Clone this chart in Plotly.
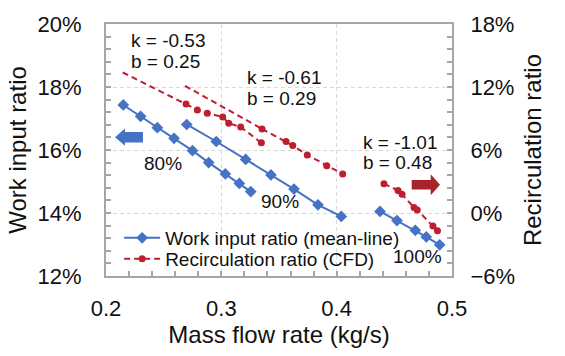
import plotly.graph_objects as go

# ---------------- data ----------------
# Work input ratio (mean-line), left axis
mass_80 = [0.215, 0.230, 0.2445, 0.259, 0.275, 0.289, 0.3035, 0.3156, 0.3255]
work_80 = [0.1743, 0.1707, 0.1671, 0.1637, 0.1598, 0.1560, 0.1524, 0.1494, 0.1468]
mass_90 = [0.270, 0.2956, 0.3211, 0.343, 0.363, 0.3838, 0.404]
work_90 = [0.1681, 0.1627, 0.1570, 0.1521, 0.1476, 0.1426, 0.1389]
mass_100 = [0.4376, 0.4523, 0.4682, 0.4777, 0.4893]
work_100 = [0.1405, 0.1376, 0.1345, 0.1324, 0.1299]

# Recirculation ratio (CFD), right axis
cfd_mass_80 = [0.2694, 0.2792, 0.2878, 0.3012, 0.3064, 0.3168, 0.3347]
cfd_recirc_80 = [0.1037, 0.0982, 0.0951, 0.0915, 0.0855, 0.0819, 0.0668]
cfd_mass_90 = [0.3353, 0.3561, 0.3619, 0.3745, 0.3914, 0.4052]
cfd_recirc_90 = [0.0801, 0.0680, 0.0643, 0.0553, 0.0451, 0.0372]
cfd_mass_100 = [0.4410, 0.4532, 0.4567, 0.4671, 0.4699, 0.4835, 0.4874]
cfd_recirc_100 = [0.0279, 0.0215, 0.0179, 0.0052, 0.0029, -0.0124, -0.0170]

# Dashed fit extensions (start point, ending at the first CFD point)
fit_mass_80 = [0.2145, 0.2694]
fit_recirc_80 = [0.1338, 0.1037]
fit_mass_90 = [0.2685, 0.3353]
fit_recirc_90 = [0.1211, 0.0801]

fit_labels = [("k = -0.53", "b = 0.25"), ("k = -0.61", "b = 0.29"), ("k = -1.01", "b = 0.48")]
speed_labels = ["80%", "90%", "100%"]

x_ticks = [0.2, 0.3, 0.4, 0.5]
y_ticks = [0.12, 0.14, 0.16, 0.18, 0.20]
y2_ticks = [-0.06, 0.0, 0.06, 0.12, 0.18]

# ---------------- styles ----------------
BLUE = "#4472C4"
RED = "#BE1E2D"
RED_ARROW = "#A8232B"
FRAME = "#A6A6A6"
GRID = "#D9D9D9"
FONT = "Liberation Sans, Arial, sans-serif"
TXT = "#111111"

fig = go.Figure()

work_sets = [(mass_80, work_80), (mass_90, work_90), (mass_100, work_100)]
for i, (mx, wy) in enumerate(work_sets):
    fig.add_trace(go.Scatter(
        x=mx, y=wy, mode="lines+markers", yaxis="y",
        line=dict(color=BLUE, width=2),
        marker=dict(symbol="diamond", size=9, color=BLUE),
        name="Work input ratio (mean-line)", legend="legend",
        showlegend=(i == 0)))

fit_sets = [(fit_mass_80, fit_recirc_80), (fit_mass_90, fit_recirc_90)]
for mx, ry in fit_sets:
    fig.add_trace(go.Scatter(
        x=mx, y=ry, mode="lines", yaxis="y2",
        line=dict(color=RED, width=2, dash="6px,4px"),
        showlegend=False, hoverinfo="skip"))

cfd_sets = [(cfd_mass_80, cfd_recirc_80), (cfd_mass_90, cfd_recirc_90), (cfd_mass_100, cfd_recirc_100)]
for i, (mx, ry) in enumerate(cfd_sets):
    fig.add_trace(go.Scatter(
        x=mx, y=ry, mode="lines+markers", yaxis="y2",
        line=dict(color=RED, width=2, dash="6px,4px"),
        marker=dict(symbol="circle", size=7, color=RED),
        name="Recirculation ratio (CFD)", legend="legend2",
        showlegend=(i == 0)))

# ---------------- annotations ----------------
ann = []
fit_pos = [(0.0665, 0.935, 0.852), (0.4017, 0.786, 0.703), (0.736, 0.531, 0.452)]
for (k_txt, b_txt), (xp, yk, yb) in zip(fit_labels, fit_pos):
    for txt, yp in ((k_txt, yk), (b_txt, yb)):
        ann.append(dict(text=txt, x=xp, y=yp, xref="paper", yref="paper",
                        xanchor="left", yanchor="middle", showarrow=False,
                        font=dict(size=19, family=FONT, color=TXT)))
speed_pos = [(0.166, 0.447), (0.504, 0.294), (0.9017, 0.0774)]
for txt, (xp, yp) in zip(speed_labels, speed_pos):
    ann.append(dict(text=txt, x=xp, y=yp, xref="paper", yref="paper",
                    xanchor="center", yanchor="middle", showarrow=False,
                    font=dict(size=19, family=FONT, color=TXT)))

# block arrows
shapes = [
    dict(type="path", xref="paper", yref="paper",
         path="M 0.026 0.5510 L 0.0549 0.5849 L 0.0549 0.5717 L 0.1069 0.5717 "
              "L 0.1069 0.5302 L 0.0549 0.5302 L 0.0549 0.5170 Z",
         fillcolor=BLUE, line=dict(width=0)),
    dict(type="path", xref="paper", yref="paper",
         path="M 0.9653 0.3623 L 0.9384 0.4038 L 0.9384 0.3811 L 0.8835 0.3811 "
              "L 0.8835 0.3434 L 0.9384 0.3434 L 0.9384 0.3208 Z",
         fillcolor=RED_ARROW, line=dict(width=0)),
]

axis_common = dict(
    showline=True, linecolor=FRAME, linewidth=2,
    ticks="inside", ticklen=5, tickcolor=FRAME, tickwidth=1.5,
    zeroline=False, tickfont=dict(size=22, family=FONT, color=TXT),
)

legend_common = dict(xanchor="left", yanchor="middle", bgcolor="rgba(0,0,0,0)",
                     font=dict(size=19, family=FONT, color=TXT), itemwidth=36)

fig.update_layout(
    width=565, height=356,
    margin=dict(l=106, r=113, t=15, b=76),
    paper_bgcolor="white", plot_bgcolor="white",
    font=dict(family=FONT, size=22, color=TXT),
    showlegend=True,
    legend=dict(x=0.038, y=0.151, **legend_common),
    legend2=dict(x=0.038, y=0.068, **legend_common),
    xaxis=dict(range=[0.2, 0.5], tickvals=x_ticks, tickformat=".1f",
               showgrid=True, gridcolor=GRID, griddash="4px,3px", gridwidth=1,
               mirror=True, ticklabelstandoff=12,
               minor=dict(dtick=0.02, tick0=0.2, ticks="inside", ticklen=5,
                          tickcolor=FRAME, showgrid=False),
               title=dict(text="Mass flow rate (kg/s)", font=dict(size=24, family=FONT, color=TXT),
                          standoff=6),
               **axis_common),
    yaxis=dict(range=[0.12, 0.20], tickvals=y_ticks, tickformat=".0%",
               showgrid=True, gridcolor=GRID, griddash="4px,3px", gridwidth=1,
               ticklabelstandoff=18,
               minor=dict(dtick=0.004, tick0=0.12, ticks="inside", ticklen=5,
                          tickcolor=FRAME, showgrid=False),
               title=dict(text="Work input ratio", font=dict(size=24, family=FONT, color=TXT),
                          standoff=4),
               **axis_common),
    yaxis2=dict(range=[-0.06, 0.18], tickvals=y2_ticks, tickformat=".0%",
                overlaying="y", side="right", showgrid=False,
                ticklabelstandoff=12,
                minor=dict(dtick=0.012, tick0=-0.06, ticks="inside", ticklen=5,
                           tickcolor=FRAME, showgrid=False),
                title=dict(text="Recirculation ratio", font=dict(size=24, family=FONT, color=TXT),
                           standoff=10),
                **axis_common),
    annotations=ann,
    shapes=shapes,
)

fig.write_html("out.html")
